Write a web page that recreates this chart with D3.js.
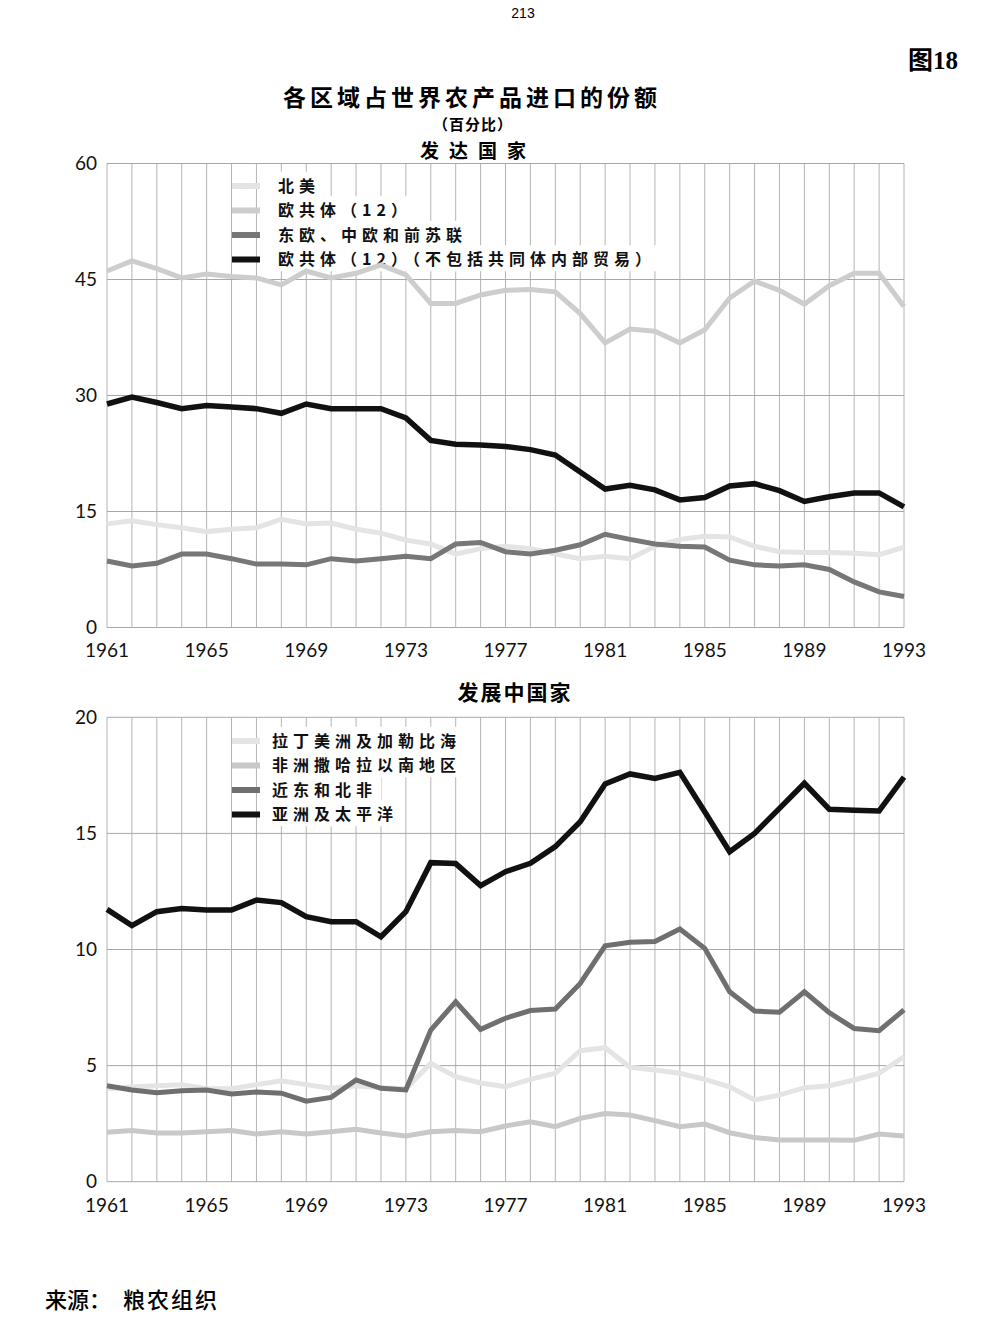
<!DOCTYPE html>
<html>
<head>
<meta charset="utf-8">
<script src="https://cdn.jsdelivr.net/npm/d3@7"></script>
<style>
  body { margin: 0; background: #fff; }
  svg { display: block; }
  .cjk { font-family: "Noto Sans CJK SC", sans-serif; }
  .num { font-family: Lato, "Liberation Sans", sans-serif; font-size: 19px; fill: #111; }
</style>
</head>
<body>
<svg id="chart_svg"></svg>
<script>
// years on the x axis
const years = [1961, 1962, 1963, 1964, 1965, 1966, 1967, 1968, 1969, 1970, 1971,
    1972, 1973, 1974, 1975, 1976, 1977, 1978, 1979, 1980, 1981, 1982,
    1983, 1984, 1985, 1986, 1987, 1988, 1989, 1990, 1991, 1992, 1993];
const xTickYears = [1961, 1965, 1969, 1973, 1977, 1981, 1985, 1989, 1993];

// developed countries (percent)
const northAmerica = [13.4, 13.8, 13.3, 12.9, 12.4, 12.7, 12.9, 14.0, 13.4, 13.5, 12.7,
    12.2, 11.3, 10.8, 9.5, 10.2, 10.5, 10.2, 9.5, 8.9, 9.2, 8.9,
    10.5, 11.4, 11.8, 11.7, 10.5, 9.8, 9.7, 9.7, 9.6, 9.4, 10.4];
const ec12 = [46.1, 47.4, 46.4, 45.2, 45.7, 45.4, 45.2, 44.3, 46.1, 45.2, 45.8,
    46.9, 45.6, 41.9, 41.9, 43.0, 43.6, 43.7, 43.4, 40.6, 36.8, 38.6,
    38.3, 36.8, 38.5, 42.6, 44.8, 43.6, 41.8, 44.2, 45.8, 45.8, 41.5];
const eastEurope = [8.6, 7.95, 8.3, 9.5, 9.5, 8.9, 8.2, 8.2, 8.1, 8.9, 8.6,
    8.9, 9.2, 8.9, 10.8, 11.0, 9.8, 9.5, 10.0, 10.7, 12.05, 11.4,
    10.8, 10.5, 10.4, 8.7, 8.1, 7.95, 8.1, 7.5, 5.9, 4.6, 4.0];
const ec12Extra = [28.9, 29.8, 29.1, 28.3, 28.7, 28.5, 28.3, 27.7, 28.9, 28.3, 28.3,
    28.3, 27.1, 24.2, 23.7, 23.6, 23.4, 23.0, 22.3, 20.1, 17.9, 18.4,
    17.8, 16.5, 16.8, 18.3, 18.6, 17.7, 16.3, 16.9, 17.4, 17.4, 15.6];
const topTicks = [0, 15, 30, 45, 60];

// developing countries (percent)
const latinAmerica = [4.0, 4.08, 4.13, 4.18, 4.0, 4.0, 4.18, 4.35, 4.18, 4.03, 4.13,
    4.05, 4.0, 5.1, 4.52, 4.25, 4.09, 4.41, 4.67, 5.64, 5.77, 4.93,
    4.81, 4.67, 4.41, 4.09, 3.52, 3.73, 4.05, 4.13, 4.38, 4.67, 5.38];
const subSahara = [2.13, 2.2, 2.1, 2.1, 2.15, 2.2, 2.05, 2.15, 2.05, 2.15, 2.26,
    2.1, 1.97, 2.15, 2.2, 2.15, 2.4, 2.58, 2.37, 2.73, 2.94, 2.87,
    2.63, 2.37, 2.48, 2.11, 1.9, 1.8, 1.8, 1.8, 1.78, 2.05, 1.97];
const nearEast = [4.13, 3.95, 3.83, 3.92, 3.95, 3.78, 3.86, 3.81, 3.47, 3.63, 4.38,
    4.02, 3.95, 6.53, 7.75, 6.56, 7.04, 7.37, 7.44, 8.54, 10.16, 10.31,
    10.34, 10.88, 10.05, 8.18, 7.35, 7.3, 8.18, 7.28, 6.6, 6.5, 7.4];
const asiaPacific = [11.73, 11.03, 11.63, 11.77, 11.7, 11.7, 12.13, 12.02, 11.41, 11.2, 11.2,
    10.55, 11.63, 13.74, 13.7, 12.75, 13.35, 13.71, 14.43, 15.5, 17.13, 17.56,
    17.37, 17.63, 15.93, 14.21, 15.0, 16.08, 17.16, 16.04, 16.0, 15.97, 17.42];
const bottomTicks = [0, 5, 10, 15, 20];

const topSeries = [
    {name: "北美", values: northAmerica, color: "#e4e4e4"},
    {name: "欧共体（12）", values: ec12, color: "#cdcdcd"},
    {name: "东欧、中欧和前苏联", values: eastEurope, color: "#777777"},
    {name: "欧共体（12）（不包括共同体内部贸易）", values: ec12Extra, color: "#111111"}
];
const bottomSeries = [
    {name: "拉丁美洲及加勒比海", values: latinAmerica, color: "#e4e4e4"},
    {name: "非洲撒哈拉以南地区", values: subSahara, color: "#c8c8c8"},
    {name: "近东和北非", values: nearEast, color: "#6f6f6f"},
    {name: "亚洲及太平洋", values: asiaPacific, color: "#111111"}
];

const width = 1000, height = 1320;
const svg = d3.select("#chart_svg").attr("width", width).attr("height", height);

let x = d3.scaleLinear().domain([1961, 1993]).range([107, 904]);

function drawPanel(series, ticks, top, bottom, labelY, legendX, textX, legendY) {
    let y = d3.scaleLinear().domain([0, d3.max(ticks)]).range([bottom, top]);
    let g = svg.append("g");

    // vertical grid, one line per year
    g.append("g").selectAll("line").data(years).join("line")
        .attr("x1", d => x(d)).attr("x2", d => x(d))
        .attr("y1", y(d3.max(ticks))).attr("y2", y(0))
        .attr("stroke", "#b4b4b4").attr("stroke-width", 1);
    // horizontal grid
    g.append("g").selectAll("line").data(ticks).join("line")
        .attr("x1", x(1961)).attr("x2", x(1993))
        .attr("y1", d => y(d)).attr("y2", d => y(d))
        .attr("stroke", "#a8a8a8").attr("stroke-width", 1);

    // y labels
    g.append("g").selectAll("text").data(ticks).join("text")
        .attr("class", "num")
        .attr("x", 97).attr("y", d => y(d)).attr("dy", "0.34em")
        .attr("text-anchor", "end")
        .text(d => d);
    // x labels
    g.append("g").selectAll("text").data(xTickYears).join("text")
        .attr("class", "num")
        .attr("x", d => x(d)).attr("y", labelY).attr("dy", "0.36em")
        .attr("text-anchor", "middle")
        .text(d => d);

    // legend
    let lg = g.append("g");
    series.forEach(function (s, i) {
        let ly = legendY + i * 24.5;
        let t = lg.append("text")
            .attr("class", "cjk")
            .attr("x", textX).attr("y", ly).attr("dy", "0.36em")
            .attr("font-size", 16).attr("font-weight", 700)
            .attr("letter-spacing", 5)
            .attr("fill", "#111")
            .text(s.name);
        let bb = t.node().getBBox();
        lg.insert("rect", "text")
            .attr("x", bb.x - 4).attr("y", bb.y - 1)
            .attr("width", bb.width + 8).attr("height", bb.height + 2)
            .attr("fill", "#fff");
        lg.append("line")
            .attr("x1", legendX).attr("x2", legendX + 28)
            .attr("y1", ly).attr("y2", ly)
            .attr("stroke", s.color).attr("stroke-width", 6);
    });

    // data lines
    let line = d3.line()
        .x((d, i) => x(years[i]))
        .y(d => y(d));
    g.append("g").selectAll("path").data(series).join("path")
        .attr("d", d => line(d.values))
        .attr("fill", "none")
        .attr("stroke", d => d.color)
        .attr("stroke-width", d => d.color === "#111111" ? 5.5 : 5)
        .attr("stroke-linejoin", "miter");
}

drawPanel(topSeries, topTicks, 163.5, 627.5, 650, 232, 278, 186);
drawPanel(bottomSeries, bottomTicks, 717.3, 1181.7, 1205, 232, 272, 741);

// header and titles
svg.append("text").attr("x", 523).attr("y", 13).attr("dy", "0.36em")
    .attr("text-anchor", "middle").attr("font-family", "Liberation Sans, sans-serif")
    .attr("font-size", 14).text("213");
svg.append("text").attr("x", 908).attr("y", 60).attr("dy", "0.36em")
    .attr("font-family", "Liberation Serif, Noto Sans CJK SC, serif")
    .attr("font-size", 25).attr("font-weight", 700).text("图18");

svg.append("text").attr("class", "cjk").attr("x", 472).attr("y", 98).attr("dy", "0.36em")
    .attr("text-anchor", "middle").attr("font-size", 23).attr("font-weight", 700)
    .attr("letter-spacing", 4).text("各区域占世界农产品进口的份额");
svg.append("text").attr("class", "cjk").attr("x", 473).attr("y", 125).attr("dy", "0.36em")
    .attr("text-anchor", "middle").attr("font-size", 15).attr("font-weight", 700)
    .attr("letter-spacing", 1).text("（百分比）");
svg.append("text").attr("class", "cjk").attr("x", 478).attr("y", 151).attr("dy", "0.36em")
    .attr("text-anchor", "middle").attr("font-size", 19).attr("font-weight", 700)
    .attr("letter-spacing", 10).text("发达国家");
svg.append("text").attr("class", "cjk").attr("x", 515).attr("y", 692).attr("dy", "0.36em")
    .attr("text-anchor", "middle").attr("font-size", 21).attr("font-weight", 700)
    .attr("letter-spacing", 2).text("发展中国家");

// source
svg.append("text").attr("class", "cjk").attr("x", 45).attr("y", 1300).attr("dy", "0.36em")
    .attr("font-size", 22).attr("font-weight", 500).text("来源：");
svg.append("text").attr("class", "cjk").attr("x", 123).attr("y", 1300).attr("dy", "0.36em")
    .attr("font-size", 22).attr("font-weight", 500).attr("letter-spacing", 2).text("粮农组织");
</script>
</body>
</html>
